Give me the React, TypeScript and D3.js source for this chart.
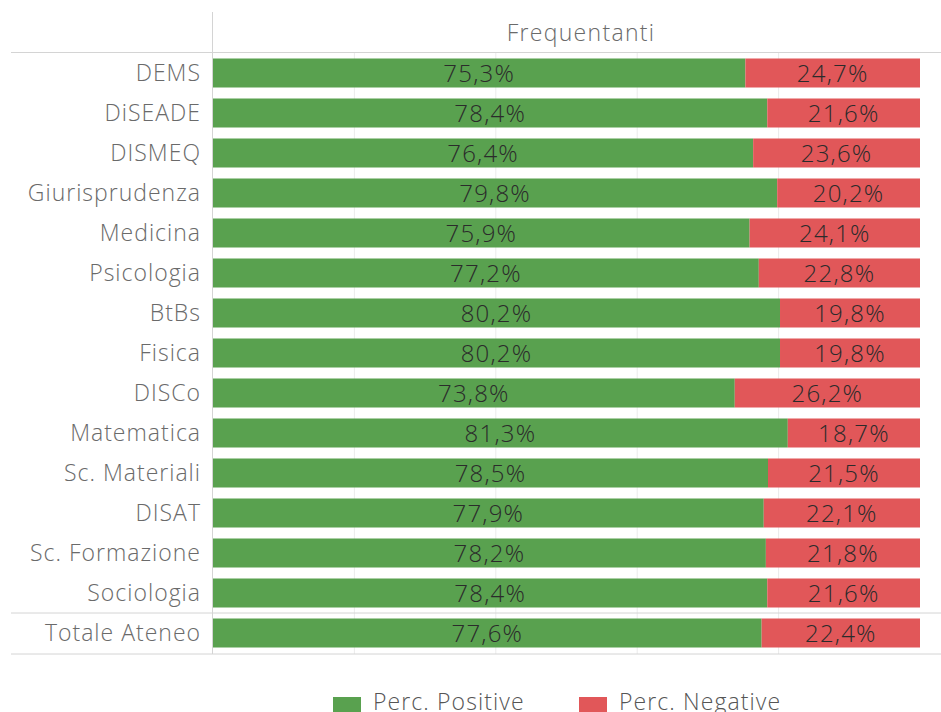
import React from 'react';
import * as d3 from 'd3';

const categories = [
  'DEMS', 'DiSEADE', 'DISMEQ', 'Giurisprudenza', 'Medicina', 'Psicologia', 'BtBs',
  'Fisica', 'DISCo', 'Matematica', 'Sc. Materiali', 'DISAT', 'Sc. Formazione',
  'Sociologia', 'Totale Ateneo'
];
const positive = [75.3, 78.4, 76.4, 79.8, 75.9, 77.2, 80.2, 80.2, 73.8, 81.3, 78.5, 77.9, 78.2, 78.4, 77.6];
const negative = [24.7, 21.6, 23.6, 20.2, 24.1, 22.8, 19.8, 19.8, 26.2, 18.7, 21.5, 22.1, 21.8, 21.6, 22.4];
const gridTicks = [20, 40, 60, 80];

const GREEN = '#59a14f';
const RED = '#e15759';
const FONT = '"Open Sans", "Noto Sans", sans-serif';

const fmt = (v: number) => v.toFixed(1).replace('.', ',') + '%';

const App = () => {
  const width = 941;
  const height = 712;
  const x = d3.scaleLinear().domain([0, 100]).range([213, 920]);
  const y = d3.scaleBand()
    .domain(categories)
    .range([53, 653])
    .paddingInner(0.275)
    .paddingOuter(0.1375);

  const last = categories[categories.length - 1];
  const sepY = (y(last) as number) - y.step() * 0.1375;

  return (
    <svg width={width} height={height} style={{ position: 'absolute', left: 0, top: 0 }}>
      {/* gridlines */}
      {gridTicks.map(t => (
        <line key={t} x1={x(t)} x2={x(t)} y1={53} y2={654} stroke="#ebebeb" strokeWidth={1} />
      ))}
      {/* frame lines */}
      <line x1={212.5} x2={212.5} y1={12} y2={654} stroke="#d4d4d4" />
      <line x1={11} x2={941} y1={52.5} y2={52.5} stroke="#d4d4d4" />
      <line x1={11} x2={941} y1={sepY} y2={sepY} stroke="#d4d4d4" />
      <line x1={11} x2={941} y1={654} y2={654} stroke="#d4d4d4" />

      <text x={(213 + 941) / 2 + 4} y={41} textAnchor="middle" fontFamily={FONT} fontWeight={300} fontSize={23} letterSpacing={1.3} fill="#6a6a6a">
        Frequentanti
      </text>

      {categories.map((c, i) => {
        const top = y(c) as number;
        const bh = y.bandwidth();
        const cy = top + bh / 2;
        const px = x(positive[i]);
        return (
          <g key={c}>
            <text x={201} y={cy} dy="0.36em" textAnchor="end" fontFamily={FONT} fontWeight={300} fontSize={23} letterSpacing={1} fill="#6a6a6a">
              {c}
            </text>
            <rect x={x(0)} y={top} width={px - x(0)} height={bh} fill={GREEN} />
            <rect x={px} y={top} width={x(positive[i] + negative[i]) - px} height={bh} fill={RED} />
            <text x={(x(0) + px) / 2} y={cy} dy="0.36em" textAnchor="middle" fontFamily={FONT} fontWeight={300} fontSize={24} letterSpacing={1.2} fill="#2b2b2b">
              {fmt(positive[i])}
            </text>
            <text x={(px + x(positive[i] + negative[i])) / 2} y={cy} dy="0.36em" textAnchor="middle" fontFamily={FONT} fontWeight={300} fontSize={24} letterSpacing={1.2} fill="#2b2b2b">
              {fmt(negative[i])}
            </text>
          </g>
        );
      })}

      {/* legend */}
      <rect x={333} y={697} width={28} height={20} fill={GREEN} />
      <text x={373} y={710} fontFamily={FONT} fontWeight={300} fontSize={23} letterSpacing={1.1} fill="#555">Perc. Positive</text>
      <rect x={579} y={697} width={28} height={20} fill={RED} />
      <text x={619} y={710} fontFamily={FONT} fontWeight={300} fontSize={23} letterSpacing={1.1} fill="#555">Perc. Negative</text>
    </svg>
  );
};

export default App;
